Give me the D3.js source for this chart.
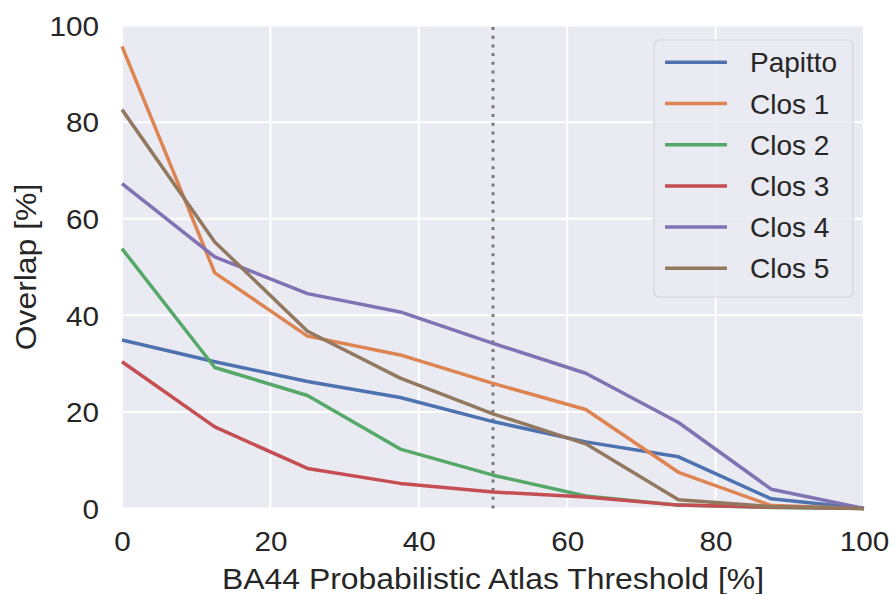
<!DOCTYPE html>
<html>
<head>
<meta charset="utf-8">
<script src="https://cdn.jsdelivr.net/npm/d3@7"></script>
<style>
  body { margin: 0; background: #ffffff; }
  svg text { font-family: "Liberation Sans", Arial, sans-serif; fill: #262626; }
</style>
</head>
<body>
<div id="chart"></div>
<script>
// thresholds on the x axis
var thresholds = [0, 12.5, 25, 37.5, 50, 62.5, 75, 87.5, 100];

var papitto = [34.9, 30.4, 26.3, 23.0, 18.0, 13.8, 10.7, 2.0, 0];
var clos1 = [95.7, 48.8, 35.7, 31.8, 25.9, 20.5, 7.5, 0.6, 0];
var clos2 = [53.8, 29.2, 23.4, 12.3, 6.9, 2.6, 0.7, 0.2, 0];
var clos3 = [30.4, 16.9, 8.3, 5.2, 3.4, 2.4, 0.7, 0.3, 0];
var clos4 = [67.3, 52.1, 44.5, 40.7, 34.2, 28.0, 17.8, 4.0, 0];
var clos5 = [82.6, 55.2, 36.7, 27.0, 19.6, 13.4, 1.8, 0.4, 0];

var seriesNames = ["Papitto", "Clos 1", "Clos 2", "Clos 3", "Clos 4", "Clos 5"];
var seriesValues = [papitto, clos1, clos2, clos3, clos4, clos5];
var colors = ["#4C72B0", "#DD8452", "#55A868", "#C44E52", "#8172B3", "#937860"];

var xTicks = [0, 20, 40, 60, 80, 100];
var yTicks = [0, 20, 40, 60, 80, 100];
var markerX = 50;

var width = 894, height = 594;
var margin = {left: 122, right: 30, top: 25.6, bottom: 85.5};

var svg = d3.select("#chart").append("svg")
    .attr("width", width)
    .attr("height", height);

var x = d3.scaleLinear().domain([0, 100]).range([margin.left, width - margin.right]);
var y = d3.scaleLinear().domain([0, 100]).range([height - margin.bottom, margin.top]);

// background
svg.append("rect")
    .attr("x", x(0))
    .attr("y", y(100))
    .attr("width", x(100) - x(0))
    .attr("height", y(0) - y(100))
    .attr("fill", "#EAEAF2");

// grid
svg.append("g")
  .selectAll("line.vgrid")
  .data(xTicks)
  .join("line")
    .attr("x1", function(d) { return x(d); })
    .attr("x2", function(d) { return x(d); })
    .attr("y1", y(0))
    .attr("y2", y(100))
    .attr("stroke", "#ffffff")
    .attr("stroke-width", 2);

svg.append("g")
  .selectAll("line.hgrid")
  .data(yTicks)
  .join("line")
    .attr("x1", x(0))
    .attr("x2", x(100))
    .attr("y1", function(d) { return y(d); })
    .attr("y2", function(d) { return y(d); })
    .attr("stroke", "#ffffff")
    .attr("stroke-width", 2);

// axes, only the labels are shown
var xAxis = svg.append("g")
    .attr("transform", "translate(0," + y(0) + ")")
    .call(d3.axisBottom(x).tickValues(xTicks).tickSize(0).tickPadding(23));
xAxis.select(".domain").remove();
xAxis.selectAll("text").style("font-size", "27px");

var yAxis = svg.append("g")
    .attr("transform", "translate(" + x(0) + ",0)")
    .call(d3.axisLeft(y).tickValues(yTicks).tickSize(0).tickPadding(23));
yAxis.select(".domain").remove();
yAxis.selectAll("text").style("font-size", "27px").attr("dy", "0.36em");

// vertical dotted marker
svg.append("line")
    .attr("x1", x(markerX))
    .attr("x2", x(markerX))
    .attr("y1", y(0))
    .attr("y2", y(100))
    .attr("stroke", "#7a7a7a")
    .attr("stroke-width", 3)
    .attr("stroke-dasharray", "3,5.7");

// series lines
var line = d3.line()
    .x(function(d, i) { return x(thresholds[i]); })
    .y(function(d) { return y(d); });

svg.append("g")
  .selectAll("path")
  .data(seriesValues)
  .join("path")
    .attr("d", line)
    .attr("fill", "none")
    .attr("stroke", function(d, i) { return colors[i]; })
    .attr("stroke-width", 3.5)
    .attr("stroke-linejoin", "round");

// axis titles
svg.append("text")
    .attr("class", "axisTitle")
    .attr("x", (x(0) + x(100)) / 2)
    .attr("y", 589)
    .attr("text-anchor", "middle")
    .style("font-size", "29px")
    .text("BA44 Probabilistic Atlas Threshold [%]");

svg.append("text")
    .attr("class", "axisTitle")
    .attr("transform", "translate(36," + ((y(0) + y(100)) / 2) + ") rotate(-90)")
    .attr("text-anchor", "middle")
    .style("font-size", "29px")
    .text("Overlap [%]");

// legend
var legend = svg.append("g").attr("transform", "translate(654,40)");
legend.append("rect")
    .attr("width", 199)
    .attr("height", 257)
    .attr("rx", 5)
    .attr("fill", "#EAEAF2")
    .attr("fill-opacity", 0.8)
    .attr("stroke", "#d4d4dc")
    .attr("stroke-width", 1.2);

var rows = legend.selectAll("g.row")
  .data(seriesNames)
  .join("g")
    .attr("transform", function(d, i) { return "translate(0," + (22.3 + i * 41.2) + ")"; });

rows.append("line")
    .attr("x1", 11)
    .attr("x2", 73)
    .attr("stroke", function(d, i) { return colors[i]; })
    .attr("stroke-width", 3.5);

rows.append("text")
    .attr("x", 96)
    .attr("dy", "0.36em")
    .style("font-size", "28px")
    .text(function(d) { return d; });

// the reference font runs a little wider than Arial
svg.selectAll(".tick text, text.axisTitle").each(function() {
  var w = this.getComputedTextLength();
  d3.select(this)
    .attr("textLength", w * 1.1)
    .attr("lengthAdjust", "spacingAndGlyphs");
});
</script>
</body>
</html>
